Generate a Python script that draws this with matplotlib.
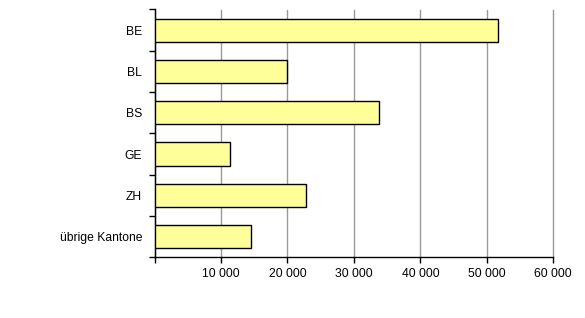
import matplotlib
matplotlib.use("Agg")
import matplotlib.pyplot as plt
from matplotlib.ticker import FixedLocator, FuncFormatter

categories = ["BE", "BL", "BS", "GE", "ZH", "übrige Kantone"]
values = [51730, 19910, 33740, 11430, 22860, 14500]
xticks = [0, 10000, 20000, 30000, 40000, 50000, 60000]

plt.rcParams['font.family'] = ['Liberation Sans', 'DejaVu Sans']
fig = plt.figure(figsize=(5.85, 3.18), dpi=100)
W, H = 585, 318
left, right, top, bottom = 154.5, 553.3, 9.5, 257.3
ax = fig.add_axes([left / W, 1 - bottom / H, (right - left) / W, (bottom - top) / H])

y = list(range(len(categories)))
ax.barh(y, values, height=0.56, color="#FFFF99", edgecolor="black", linewidth=1.0, zorder=3)
ax.set_ylim(len(categories) - 0.5, -0.5)
ax.set_xlim(0, 60000)

fs = 8.7
ax.set_yticks(y)
ax.set_yticklabels(categories, fontsize=fs)
ax.yaxis.set_minor_locator(FixedLocator([i - 0.5 for i in range(len(categories) + 1)]))
ax.tick_params(axis='y', which='major', length=0, pad=9)
ax.tick_params(axis='y', which='minor', length=4, width=1, direction='out')

ax.set_xticks(xticks)
ax.xaxis.set_major_formatter(FuncFormatter(lambda v, p: "" if v == 0 else f"{int(v):,}".replace(",", " ")))
ax.tick_params(axis='x', which='major', length=4, width=1, direction='out', labelsize=fs, pad=4)

ax.grid(axis='x', color="#999999", linewidth=1, zorder=0)
for gl in ax.get_xgridlines():
    gl.set_clip_on(False)
ax.set_axisbelow(True)
for s in ["top", "right"]:
    ax.spines[s].set_visible(False)
for s in ["left", "bottom"]:
    ax.spines[s].set_linewidth(1)
    ax.spines[s].set_color("black")

fig.savefig("out.png", dpi=100)
